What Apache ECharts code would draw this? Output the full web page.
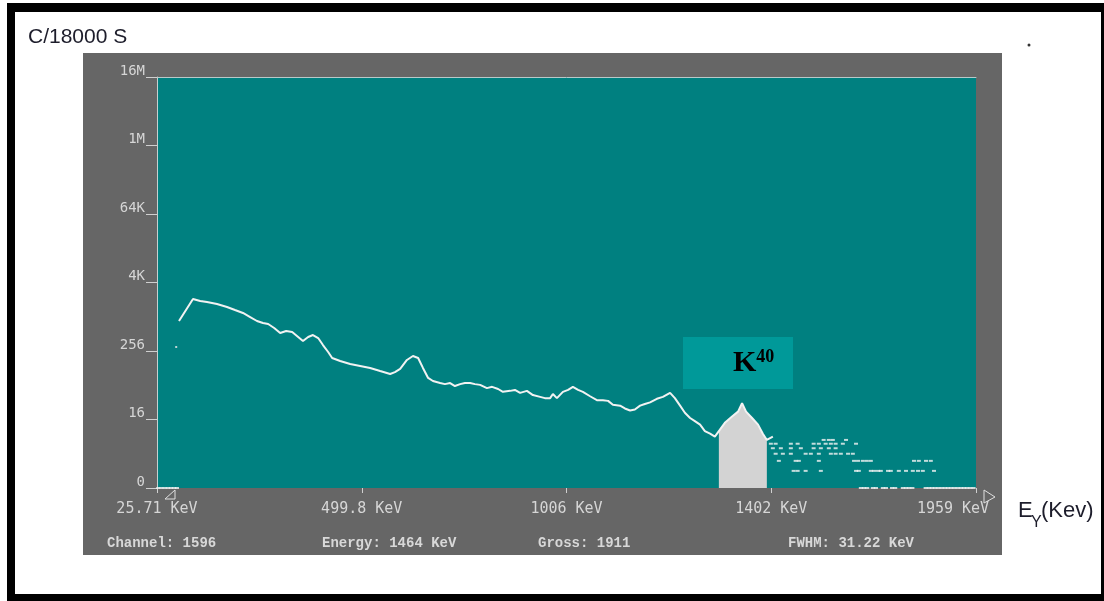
<!DOCTYPE html>
<html><head><meta charset="utf-8">
<script src="https://cdn.jsdelivr.net/npm/echarts@6/dist/echarts.min.js"></script>
<style>
html,body{margin:0;padding:0;background:#fff;}
#wrap{position:relative;width:1104px;height:601px;overflow:hidden;background:#fff;}
#frame{position:absolute;left:7px;top:3px;width:1097px;height:598px;box-sizing:border-box;border-style:solid;border-color:#000;border-width:9px 3px 7px 8px;}
#panel{position:absolute;left:83px;top:53px;width:919px;height:502px;background:#666666;}
#chart{position:absolute;left:0;top:0;width:1104px;height:601px;}
</style></head>
<body><div id="wrap"><div id="frame"></div><div id="panel"></div><div id="chart"></div></div>
<script>
// ---- tick labels ----
const xTickLabels = ['25.71 KeV', '499.8 KeV', '1006 KeV', '1402 KeV', '1959 KeV'];
const yTickLabels = ['0', '16', '256', '4K', '64K', '1M', '16M'];
const statusTexts = ['Channel: 1596', 'Energy: 1464 KeV', 'Gross: 1911', 'FWHM: 31.22 KeV'];

// ---- spectrum (channel, counts per 18000 s) ----
const spectrumChannels = [55, 90, 108, 125, 150, 175, 195, 215, 233, 250, 265, 278, 293, 308, 323, 338, 350, 365, 378, 390,
  403, 415, 428, 438, 458, 483, 508, 533, 558, 583, 595, 608, 625, 640, 653, 665, 678, 690, 708, 720,
  733, 745, 758, 770, 783, 795, 808, 825, 838, 853, 865, 883, 895, 908, 925, 940, 958, 970, 983, 990,
  1000, 1015, 1028, 1040, 1053, 1065, 1083, 1100, 1115, 1128, 1140, 1158, 1170, 1183, 1195, 1208, 1220, 1233, 1250, 1265,
  1283, 1295, 1308, 1320, 1333, 1345, 1358, 1370, 1383, 1395, 1405, 1420, 1438, 1453, 1463, 1473, 1488, 1503, 1515, 1525, 1540];
const spectrumCounts = [862, 2100, 1940, 1860, 1715, 1519, 1345, 1192, 1013, 862, 795, 764, 649, 530, 575, 552, 470, 384, 451, 489,
  433, 326, 246, 193, 171, 151, 140, 129, 114, 101, 109, 124, 178, 209, 193, 129, 86, 76, 70, 67,
  70, 62, 67, 70, 70, 67, 65, 57, 60, 55, 49, 51, 53, 47, 51, 43, 40, 38, 38, 45,
  38, 49, 53, 60, 53, 49, 41, 35, 35, 34, 29, 28, 25, 23, 24, 28, 30, 32, 37, 40,
  47, 38, 28, 21, 17, 15, 13, 10, 9, 8, 10, 14, 18, 22, 31, 22, 17, 13, 9, 7, 8];

// ---- K40 region of interest (shaded) ----
const roiChannels = [1405, 1420, 1438, 1453, 1463, 1473, 1488, 1503, 1515, 1525];
const roiCounts = [10, 14, 18, 22, 31, 22, 17, 13, 9, 7];

// ---- sparse high-energy tail ----
const tailChannels = [
  1667, 1680, 1690, 1723,
  1535, 1547, 1585, 1602, 1642, 1655, 1672, 1685, 1697, 1715, 1748,
  1540, 1560, 1585, 1610, 1642, 1660, 1680, 1697,
  1547, 1565, 1585, 1622, 1635, 1655, 1685, 1697, 1710, 1728, 1740,
  1555, 1597, 1605, 1655, 1743, 1753, 1765, 1775, 1785, 1893, 1905, 1923, 1935,
  1592, 1602, 1622, 1660, 1748, 1755, 1785, 1793, 1803, 1810, 1828, 1835, 1855, 1873, 1890, 1903, 1915, 1943,
  1760, 1768, 1776, 1790, 1798, 1815, 1823, 1838, 1846, 1865, 1873, 1881, 1889, 1922, 1930, 1938, 1946, 1954,
  1962, 1970, 1978, 1986, 1994, 2002, 2010, 2018, 2026, 2034, 2042,
  3, 11, 19, 27, 35, 43, 50];
const tailCounts = [
  7, 7, 7, 7,
  6, 6, 6, 6, 6, 6, 6, 6, 6, 6, 6,
  5, 5, 5, 5, 5, 5, 5, 5,
  4, 4, 4, 4, 4, 4, 4, 4, 4, 4, 4,
  3, 3, 3, 3, 3, 3, 3, 3, 3, 3, 3, 3, 3,
  2, 2, 2, 2, 2, 2, 2, 2, 2, 2, 2, 2, 2, 2, 2, 2, 2, 2,
  1, 1, 1, 1, 1, 1, 1, 1, 1, 1, 1, 1, 1, 1, 1, 1, 1, 1,
  1, 1, 1, 1, 1, 1, 1, 1, 1, 1, 1,
  1, 1, 1, 1, 1, 1, 1];
const strayChannels = [48];
const strayCounts = [301];

const zip = (a, b) => a.map((v, i) => [v, b[i]]);
const lbl = '#d6d6d6';
const ink = '#1d1d2b';

const chart = echarts.init(document.getElementById('chart'), null, { renderer: 'canvas' });
chart.setOption({
  animation: false,
  backgroundColor: 'transparent',
  title: {
    text: 'C/18000 S', left: 23, top: 22,
    textStyle: { fontFamily: 'Liberation Sans', fontSize: 21, fontWeight: 'normal', color: ink }
  },
  grid: { left: 157, top: 77, width: 819, height: 411, show: true, backgroundColor: '#008080', borderWidth: 0 },
  xAxis: [{
    type: 'value', min: 0, max: 2048, interval: 512,
    axisLine: { show: false },
    axisTick: { show: true, length: 5, lineStyle: { color: '#d0d0d0' } },
    splitLine: { show: false },
    axisLabel: {
      margin: 14, color: lbl, fontFamily: 'DejaVu Sans Mono', fontSize: 15,
      formatter: v => {
        const i = Math.round(v / 512);
        return i === xTickLabels.length - 1 ? '{last|' + xTickLabels[i] + '}' : xTickLabels[i];
      },
      rich: { last: { padding: [0, 46, 0, 0], color: lbl, fontFamily: 'DejaVu Sans Mono', fontSize: 15 } }
    }
  }, {
    type: 'value', position: 'top', min: 0, max: 2048,
    axisLine: { show: true, lineStyle: { color: '#b9c9c9' } },
    axisTick: { show: false }, axisLabel: { show: false }, splitLine: { show: false }
  }],
  yAxis: {
    type: 'log', logBase: 16, min: 1, max: 16777216,
    axisLine: { show: true, lineStyle: { color: '#c6d0d0' } },
    axisTick: { show: true, length: 11, lineStyle: { color: '#d0d0d0' } },
    splitLine: { show: false },
    axisLabel: {
      margin: 12, verticalAlign: 'bottom', lineHeight: 12, color: lbl, fontFamily: 'DejaVu Sans Mono', fontSize: 14,
      formatter: v => yTickLabels[Math.round(Math.log(v) / Math.log(16))]
    }
  },
  series: [{
    name: 'ROI', type: 'line', data: zip(roiChannels, roiCounts), symbol: 'none',
    lineStyle: { width: 0 }, areaStyle: { color: '#d3d3d3', opacity: 1, origin: 'start' }, z: 2
  }, {
    name: 'spectrum', type: 'line', data: zip(spectrumChannels, spectrumCounts), symbol: 'none',
    lineStyle: { color: '#f2f2f2', width: 2 }, z: 3
  }, {
    name: 'tail', type: 'scatter', data: zip(tailChannels, tailCounts), symbol: 'rect', symbolSize: [4, 2],
    itemStyle: { color: '#f2f2f2' }, clip: false, z: 3
  }, {
    name: 'stray', type: 'scatter', data: zip(strayChannels, strayCounts), symbol: 'rect', symbolSize: [2, 2],
    itemStyle: { color: '#e8e8e8' }, z: 3
  }],
  graphic: [
    { type: 'rect', shape: { x: 683, y: 337, width: 110, height: 52 }, style: { fill: '#009999' }, z: 50 },
    { type: 'text', x: 733, y: 348, z: 51, style: {
        text: '{k|K}{s|40}',
        rich: {
          k: { fontFamily: 'Liberation Serif', fontSize: 30, fontWeight: 'bold', fill: '#000', lineHeight: 30, verticalAlign: 'bottom' },
          s: { fontFamily: 'Liberation Serif', fontSize: 18, fontWeight: 'bold', fill: '#000', lineHeight: 18, verticalAlign: 'top' }
        } } },
    { type: 'text', x: 1018, y: 500, z: 51, style: { text: 'E', fontFamily: 'Liberation Sans', fontSize: 22, fill: ink, verticalAlign: 'top' } },
    { type: 'text', x: 1031, y: 515, z: 51, style: { text: 'Y', fontFamily: 'Liberation Sans', fontSize: 16, fill: ink, verticalAlign: 'top' } },
    { type: 'text', x: 1041, y: 500, z: 51, style: { text: '(Kev)', fontFamily: 'Liberation Sans', fontSize: 22, fill: ink, verticalAlign: 'top' } },
    ...statusTexts.map((t, i) => ({
      type: 'text', x: [107, 322, 538, 788][i], y: 543, z: 51,
      style: { text: t, fontFamily: 'Liberation Mono', fontWeight: 'bold', fontSize: 14, fill: '#d8d8d8', verticalAlign: 'middle' }
    })),
    { type: 'circle', shape: { cx: 1029, cy: 45, r: 1.5 }, style: { fill: '#333' }, z: 51 },
    { type: 'polygon', shape: { points: [[984, 490], [995, 497], [984, 503]] }, style: { fill: 'none', stroke: '#e0e0e0', lineWidth: 1 }, z: 51 },
    { type: 'polyline', shape: { points: [[175, 490], [175, 499], [165, 499], [175, 490]] }, style: { stroke: '#e0e0e0', lineWidth: 1, fill: 'none' }, z: 51 }
  ]
});
</script>
</body></html>
